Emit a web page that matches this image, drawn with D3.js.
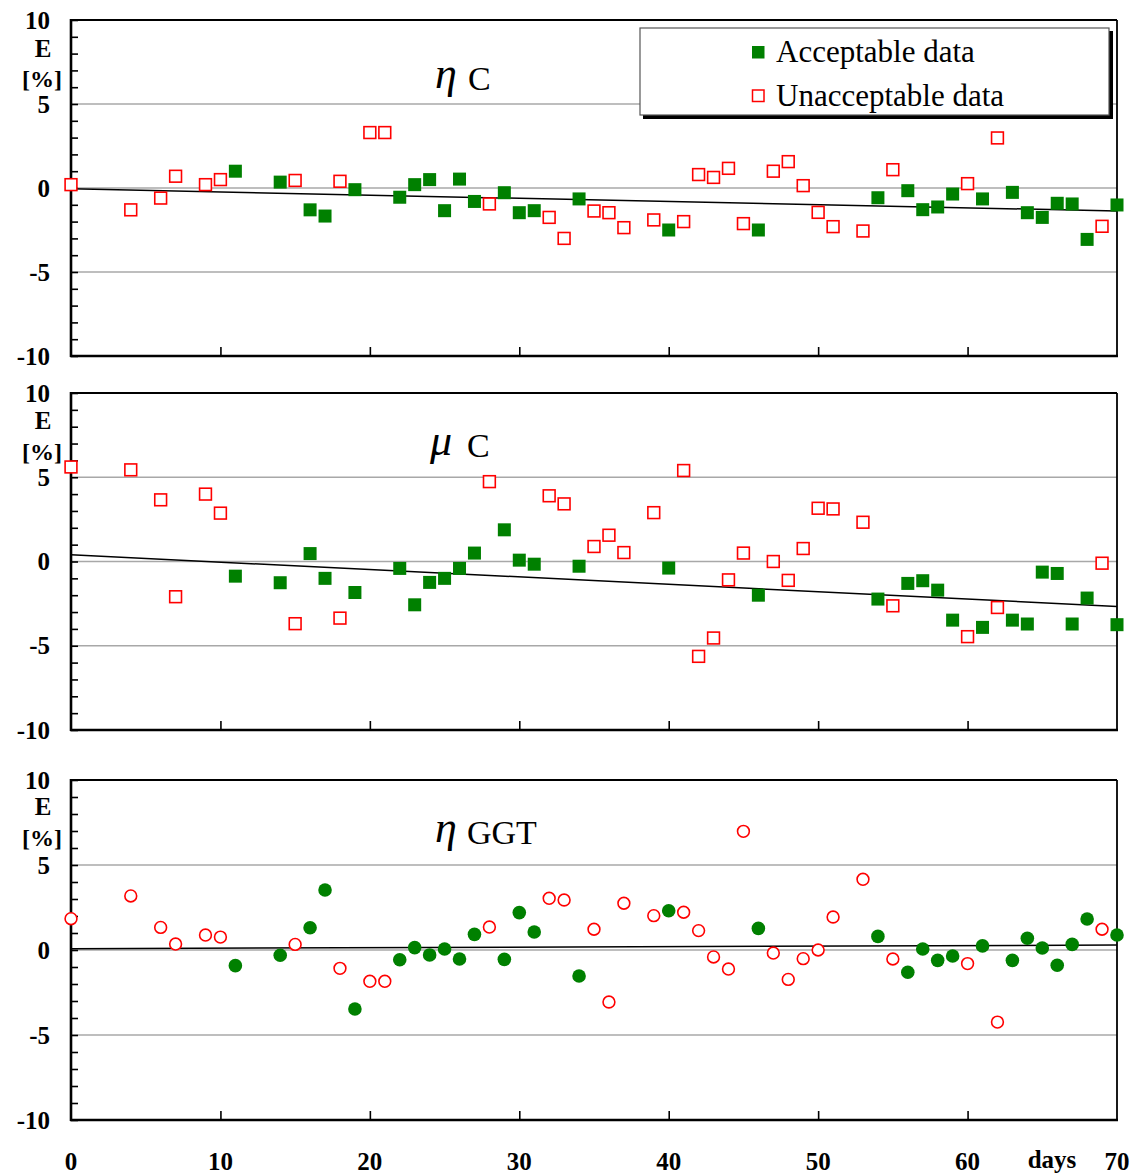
<!DOCTYPE html>
<html><head><meta charset="utf-8">
<script src="https://cdn.jsdelivr.net/npm/d3@7"></script>
<style>body{margin:0;background:#fff}svg{display:block}</style>
</head><body>
<svg id="c" width="1133" height="1176"></svg>
<script>
const days = [0,4,6,7,9,10,11,14,15,16,17,18,19,20,21,22,23,24,25,26,27,28,29,30,31,32,33,34,35,36,37,39,40,41,42,43,44,45,46,47,48,49,50,51,53,54,55,56,57,58,59,60,61,62,63,64,65,66,67,68,69,70];
const acceptableDays = [11,14,16,17,19,22,23,24,25,26,27,29,30,31,34,40,46,54,56,57,58,59,61,63,64,65,66,67,68,70];
const etaC = [0.2,-1.3,-0.6,0.7,0.2,0.5,1.0,0.35,0.45,-1.3,-1.67,0.4,-0.1,3.3,3.3,-0.55,0.2,0.5,-1.35,0.53,-0.8,-0.95,-0.28,-1.47,-1.35,-1.75,-3.0,-0.65,-1.37,-1.47,-2.36,-1.9,-2.5,-2.0,0.8,0.63,1.17,-2.12,-2.5,1.0,1.57,0.14,-1.45,-2.3,-2.56,-0.58,1.09,-0.16,-1.29,-1.13,-0.36,0.26,-0.65,2.98,-0.26,-1.47,-1.75,-0.91,-0.95,-3.06,-2.28,-1.01];
const muC = [5.61,5.44,3.66,-2.09,4.0,2.87,-0.87,-1.26,-3.69,0.47,-1.0,-3.36,-1.84,null,null,-0.41,-2.57,-1.24,-1.0,-0.41,0.5,4.74,1.88,0.08,-0.16,3.9,3.42,-0.28,0.89,1.56,0.53,2.9,-0.39,5.4,-5.63,-4.54,-1.09,0.5,-2.0,0.0,-1.12,0.77,3.16,3.12,2.33,-2.23,-2.63,-1.3,-1.14,-1.7,-3.48,-4.46,-3.91,-2.73,-3.48,-3.71,-0.63,-0.71,-3.71,-2.17,-0.1,-3.75];
const etaGGT = [1.84,3.18,1.33,0.35,0.88,0.76,-0.92,-0.31,0.33,1.31,3.53,-1.08,-3.47,-1.84,-1.84,-0.57,0.14,-0.29,0.06,-0.53,0.92,1.35,-0.55,2.2,1.06,3.04,2.94,-1.53,1.22,-3.06,2.75,2.02,2.31,2.22,1.14,-0.41,-1.12,6.98,1.27,-0.18,-1.73,-0.51,0.0,1.94,4.16,0.8,-0.53,-1.31,0.06,-0.61,-0.35,-0.8,0.24,-4.24,-0.61,0.69,0.12,-0.9,0.33,1.82,1.22,0.88];
const trendEtaC = [-0.05,-1.37];
const trendMuC = [0.4,-2.67];
const trendEtaGGT = [0.08,0.29];
const xTicks = [0,10,20,30,40,50,60,70];
const yTicks = [10,5,0,-5,-10];
const legendLabels = ["Acceptable data","Unacceptable data"];

const svg = d3.select("#c");
const serif = "'Liberation Serif','Times New Roman',serif";
const GREEN = "#008000", RED = "#ff0000";
const x = d3.scaleLinear().domain([0,70]).range([71,1117]);

const panels = [
  {vals: etaC, trend: trendEtaC, top: 20, bottom: 356, shape: "square", greek: "η", sub: "C", gx: 435, gy: 88, sx: 468,
   eY: 49, pY: 78},
  {vals: muC, trend: trendMuC, top: 393, bottom: 730, shape: "square", greek: "μ", sub: "C", gx: 430, gy: 455, sx: 467,
   eY: 421, pY: 451},
  {vals: etaGGT, trend: trendEtaGGT, top: 780, bottom: 1120, shape: "circle", greek: "η", sub: "GGT", gx: 435, gy: 842, sx: 467,
   eY: 807, pY: 837}
];
const acc = new Set(acceptableDays);

panels.forEach((p, pi) => {
  const y = d3.scaleLinear().domain([-10,10]).range([p.bottom, p.top]);
  const g = svg.append("g");
  g.selectAll(".grid").data([5,0,-5]).enter().append("line")
    .attr("x1", x(0)).attr("x2", x(70)).attr("y1", d=>y(d)).attr("y2", d=>y(d))
    .attr("stroke", "#a8a8a8").attr("stroke-width", 1.6);
  g.append("line").attr("x1", x(0)).attr("x2", x(70)).attr("y1", p.top).attr("y2", p.top).attr("stroke","#000").attr("stroke-width",2);
  g.append("line").attr("x1", x(70)).attr("x2", x(70)).attr("y1", p.top).attr("y2", p.bottom).attr("stroke","#000").attr("stroke-width",1.8);
  const yAxis = d3.axisRight(y).tickValues(d3.range(-10, 11, 1)).tickSize(7).tickFormat("");
  const ya = g.append("g").attr("transform", `translate(${x(0)},0)`).call(yAxis);
  ya.select(".domain").remove();
  ya.selectAll(".tick line").attr("stroke","#000").attr("stroke-width",1.6);
  g.append("line").attr("x1", x(0)).attr("x2", x(0)).attr("y1", p.top-1).attr("y2", p.bottom+1).attr("stroke","#000").attr("stroke-width",2.6);
  const xAxis = d3.axisTop(x).tickValues(xTicks.slice(1, -1)).tickSize(9).tickFormat("");
  const xa = g.append("g").attr("transform", `translate(0,${p.bottom})`).call(xAxis);
  xa.select(".domain").remove();
  xa.selectAll(".tick line").attr("stroke","#000").attr("stroke-width",1.6);
  g.append("line").attr("x1", x(0)-1).attr("x2", x(70)+1).attr("y1", p.bottom).attr("y2", p.bottom).attr("stroke","#000").attr("stroke-width",2.6);
  g.selectAll(".yl").data(yTicks).enter().append("text")
    .attr("x", 50).attr("y", d=>y(d)+8.5).attr("text-anchor","end")
    .attr("font-family", serif).attr("font-weight","bold").attr("font-size", 25)
    .text(d=>d);
  g.append("text").attr("x", 43).attr("y", p.eY+8).attr("text-anchor","middle")
    .attr("font-family", serif).attr("font-weight","bold").attr("font-size", 25).text("E");
  g.append("text").attr("x", 42).attr("y", p.pY+9).attr("text-anchor","middle")
    .attr("font-family", serif).attr("font-weight","bold").attr("font-size", 24).text("[%]");
  g.append("text").attr("x", p.gx).attr("y", p.gy).attr("font-family", serif).attr("font-style","italic")
    .attr("font-size", 44).text(p.greek);
  g.append("text").attr("x", p.sx).attr("y", p.gy+2).attr("font-family", serif)
    .attr("font-size", 34).text(p.sub);
  g.append("line").attr("x1", x(0)).attr("x2", x(70)).attr("y1", y(p.trend[0])).attr("y2", y(p.trend[1]))
    .attr("stroke","#000").attr("stroke-width",1.5);
  const pts = days.map((d,i)=>({d, v: p.vals[i], a: acc.has(d)})).filter(o=>o.v !== null);
  if (p.shape === "square") {
    g.selectAll(".pt").data(pts).enter().append("rect")
      .attr("x", o=> x(o.d) - (o.a?6.5:5.9)).attr("y", o=> y(o.v) - (o.a?6.5:5.9))
      .attr("width", o=>o.a?13:11.8).attr("height", o=>o.a?13:11.8)
      .attr("fill", o=>o.a?GREEN:"#fff").attr("stroke", o=>o.a?"none":RED).attr("stroke-width",1.6);
  } else {
    g.selectAll(".pt").data(pts).enter().append("circle")
      .attr("cx", o=>x(o.d)).attr("cy", o=>y(o.v)).attr("r", o=>o.a?6.8:5.9)
      .attr("fill", o=>o.a?GREEN:"#fff").attr("stroke", o=>o.a?"none":RED).attr("stroke-width",1.6);
  }
  if (pi === 0) {
    const L = svg.append("g");
    L.append("rect").attr("x", 643).attr("y", 31).attr("width", 470).attr("height", 88).attr("fill","#000");
    L.append("rect").attr("x", 640).attr("y", 28).attr("width", 469).attr("height", 87)
      .attr("fill","#fff").attr("stroke","#555").attr("stroke-width",1.2);
    L.append("rect").attr("x", 752).attr("y", 46).attr("width", 12.5).attr("height", 12.5).attr("fill", GREEN);
    L.append("rect").attr("x", 752.5).attr("y", 90).attr("width", 11.5).attr("height", 11.5)
      .attr("fill","#fff").attr("stroke",RED).attr("stroke-width",1.5);
    L.selectAll(".lt").data(legendLabels).enter().append("text")
      .attr("x", 776).attr("y", (d,i)=> 62 + i*44)
      .attr("font-family", serif).attr("font-size", 31).text(d=>d);
  }
});
const xl = svg.append("g");
xl.selectAll("text").data(xTicks).enter().append("text")
  .attr("x", d=>x(d)).attr("y", 1170).attr("text-anchor","middle")
  .attr("font-family", serif).attr("font-weight","bold").attr("font-size", 25).text(d=>d);
xl.append("text").attr("x", 1052).attr("y", 1168).attr("text-anchor","middle")
  .attr("font-family", serif).attr("font-weight","bold").attr("font-size", 25).text("days");
</script>
</body></html>
